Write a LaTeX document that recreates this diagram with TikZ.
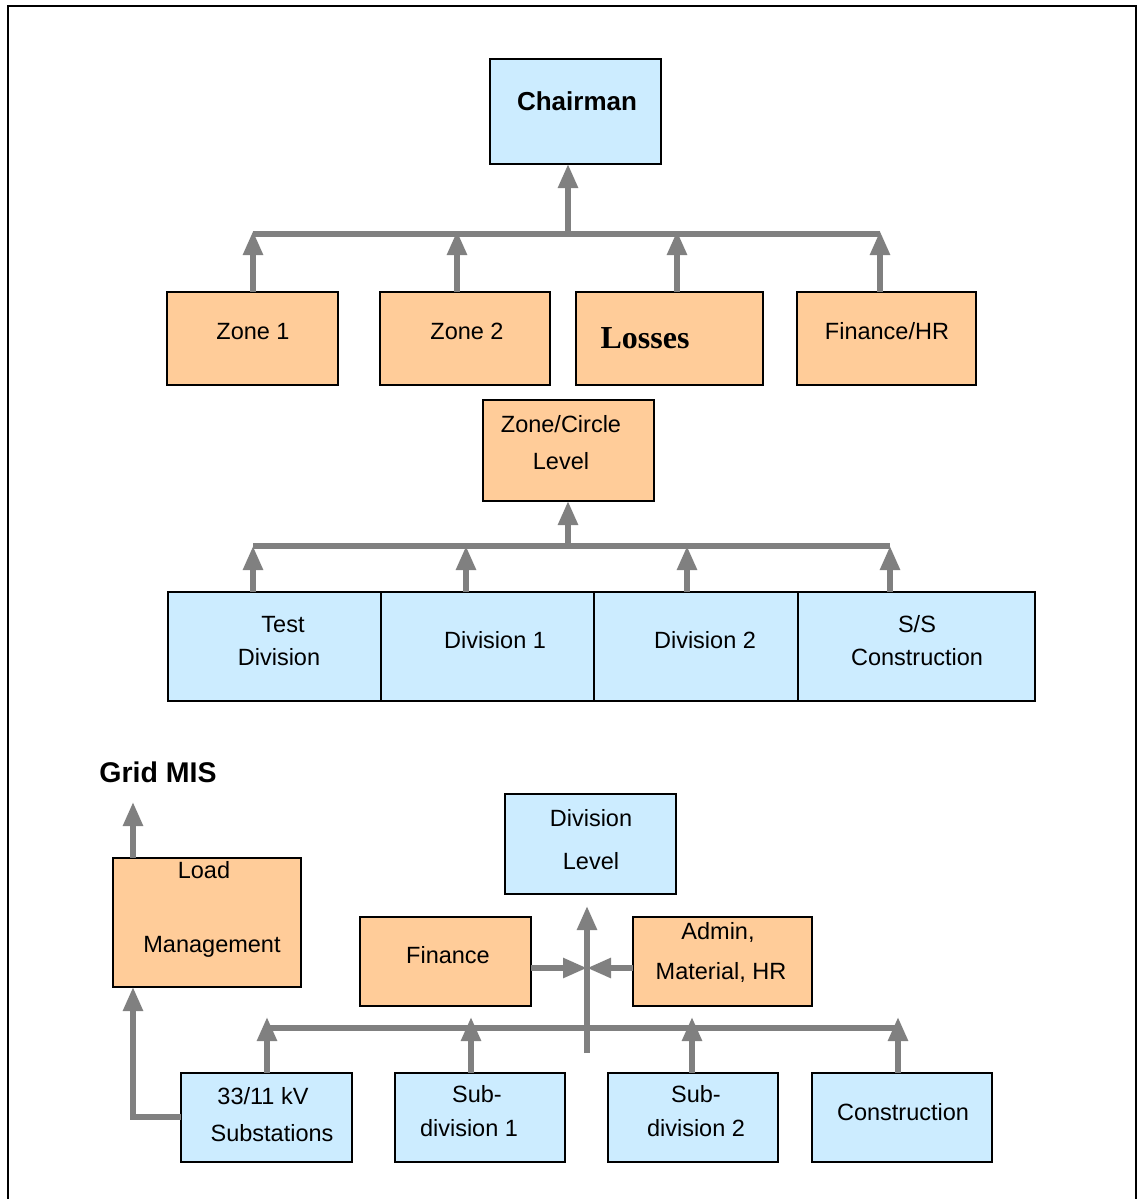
\documentclass[tikz,border=0pt]{standalone}
\usepackage{fontspec}
\setmainfont{Liberation Sans}
\newfontfamily\serifbold{Liberation Serif}
\usetikzlibrary{arrows.meta}
\definecolor{boxblue}{HTML}{CCECFF}
\definecolor{boxorange}{HTML}{FFCC99}
\definecolor{linkgray}{HTML}{808080}

\begin{document}
\begin{tikzpicture}[x=1pt,y=-1pt,
  box/.style={draw=black,line width=1.8pt,inner sep=0pt,outer sep=0pt},
  bluebox/.style={box,fill=boxblue},
  orangebox/.style={box,fill=boxorange},
  sz/.style 2 args={minimum width=#1pt,minimum height=#2pt},
  lbl/.style={inner sep=0pt,font=\fontsize{23.5}{28}\selectfont,text height=16.8pt,text depth=0pt},
  bus/.style={draw=linkgray,line width=6pt},
  link/.style={draw=linkgray,line width=5.5pt,-{Triangle[width=19pt,length=24pt]}},
]
\useasboundingbox (0,0) rectangle (1139,1199);
\fill[white] (0,0) rectangle (1139,1199);
% frame (open at the bottom)
\draw[line width=2pt] (8,1199) -- (8,6) -- (1136,6) -- (1136,1199);

% ---------- top level ----------
\node[bluebox,sz={171}{105}] (chair) at (575.5,111.5) {};
\node[lbl,font=\fontsize{26}{30}\selectfont\bfseries,text height=18.6pt] (chairT) at (577,101) {Chairman};

\node[orangebox,sz={171}{93}] (z1) at (252.5,338.5) {};
\node[orangebox,sz={170}{93}] (z2) at (465,338.5) {};
\node[orangebox,sz={187}{93}] (loss) at (669.5,338.5) {};
\node[orangebox,sz={179}{93}] (finhr) at (886.5,338.5) {};
\node[lbl] (z1T) at (253,331) {Zone 1};
\node[lbl] (z2T) at (467,331) {Zone 2};
\node[lbl,font=\fontsize{32}{36}\serifbold\bfseries,text height=21.5pt] (lossT) at (645,337.5) {Losses};
\node[lbl] (finhrT) at (887,331.5) {Finance/HR};

\coordinate (b1l) at (253,234);
\coordinate (b1r) at (880,234);
\coordinate (b1c) at (568,234);
\draw[bus] (b1l) -- (b1r);
\draw[link] (b1c) -- (chair.south -| b1c);
\coordinate (t11) at (253,231);
\coordinate (t12) at (457,231);
\coordinate (t13) at (677,231);
\coordinate (t14) at (880,231);
\draw[link] (z1.north -| t11) -- (t11);
\draw[link] (z2.north -| t12) -- (t12);
\draw[link] (loss.north -| t13) -- (t13);
\draw[link] (finhr.north -| t14) -- (t14);

% ---------- zone / circle level ----------
\node[orangebox,sz={171}{101}] (zc) at (568.5,450.5) {};
\node[lbl] (zcT1) at (561,424) {Zone/Circle};
\node[lbl] (zcT2) at (561,461) {Level};

\node[bluebox,sz={227}{109}] (test) at (281.5,646.5) {};
\node[bluebox,sz={227}{109}] (div1) at (494.5,646.5) {};
\node[bluebox,sz={224}{109}] (div2) at (706,646.5) {};
\node[bluebox,sz={237}{109}] (ss) at (916.5,646.5) {};
\node[lbl] (testT1) at (283,624) {Test};
\node[lbl] (testT2) at (279,657) {Division};
\node[lbl] (div1T) at (495,640) {Division 1};
\node[lbl] (div2T) at (705,640) {Division 2};
\node[lbl] (ssT1) at (917,624) {S/S};
\node[lbl] (ssT2) at (917,657) {Construction};

\coordinate (b2l) at (253,546);
\coordinate (b2r) at (890,546);
\coordinate (b2c) at (568,546);
\draw[bus] (b2l) -- (b2r);
\draw[link] (b2c) -- (zc.south -| b2c);
\coordinate (t21) at (253,546);
\coordinate (t22) at (466,546);
\coordinate (t23) at (687,546);
\coordinate (t24) at (890,546);
\draw[link] (test.north -| t21) -- (t21);
\draw[link] (div1.north -| t22) -- (t22);
\draw[link] (div2.north -| t23) -- (t23);
\draw[link] (ss.north -| t24) -- (t24);

% ---------- division level ----------
\node[lbl,font=\fontsize{28.5}{32}\selectfont\bfseries,text height=20.4pt] (grid) at (158,772.5) {Grid MIS};

\node[orangebox,sz={188}{129}] (load) at (207,922.5) {};
\node[lbl] (loadT1) at (204,870) {Load};
\node[lbl] (loadT2) at (212,944.5) {Management};
\coordinate (gridtip) at (133,802);
\draw[link] (load.north -| gridtip) -- (gridtip);

\node[bluebox,sz={171}{100}] (divlvl) at (590.5,844) {};
\node[lbl] (divlvlT1) at (591,818) {Division};
\node[lbl] (divlvlT2) at (591,861) {Level};

\node[orangebox,sz={171}{89}] (fin) at (445.5,961.5) {};
\node[orangebox,sz={179}{89}] (adm) at (722.5,961.5) {};
\node[lbl] (finT) at (448,955) {Finance};
\node[lbl] (admT1) at (718,931) {Admin,};
\node[lbl] (admT2) at (721,971) {Material, HR};

\coordinate (vbot) at (587,1053);
\coordinate (vtop) at (587,906);
\coordinate (vmid) at (587,968);
\draw[link] (vbot) -- (vtop);
\draw[link] (fin.east |- vmid) -- (vmid);
\draw[link] (adm.west |- vmid) -- (vmid);

\node[bluebox,sz={171}{89}] (sub33) at (266.5,1117.5) {};
\node[bluebox,sz={170}{89}] (sd1) at (480,1117.5) {};
\node[bluebox,sz={170}{89}] (sd2) at (693,1117.5) {};
\node[bluebox,sz={180}{89}] (cons) at (902,1117.5) {};
\node[lbl] (sub33T1) at (263,1096.5) {33/11 kV};
\node[lbl] (sub33T2) at (272,1133.5) {Substations};
\node[lbl] (sd1T1) at (477,1094) {Sub-};
\node[lbl] (sd1T2) at (469,1128) {division 1};
\node[lbl] (sd2T1) at (696,1094) {Sub-};
\node[lbl] (sd2T2) at (696,1128) {division 2};
\node[lbl] (consT) at (903,1112) {Construction};

\coordinate (b3l) at (267,1028);
\coordinate (b3r) at (898,1028);
\draw[bus] (b3l) -- (b3r);
\coordinate (t31) at (267,1017);
\coordinate (t32) at (471,1017);
\coordinate (t33) at (692,1017);
\coordinate (t34) at (898,1017);
\draw[link] (sub33.north -| t31) -- (t31);
\draw[link] (sd1.north -| t32) -- (t32);
\draw[link] (sd2.north -| t33) -- (t33);
\draw[link] (cons.north -| t34) -- (t34);

% substations report to load management
\coordinate (lmcorner) at (133,1117);
\draw[link] (sub33.west |- lmcorner) -- (lmcorner) -- (load.south -| lmcorner);
\end{tikzpicture}
\end{document}
